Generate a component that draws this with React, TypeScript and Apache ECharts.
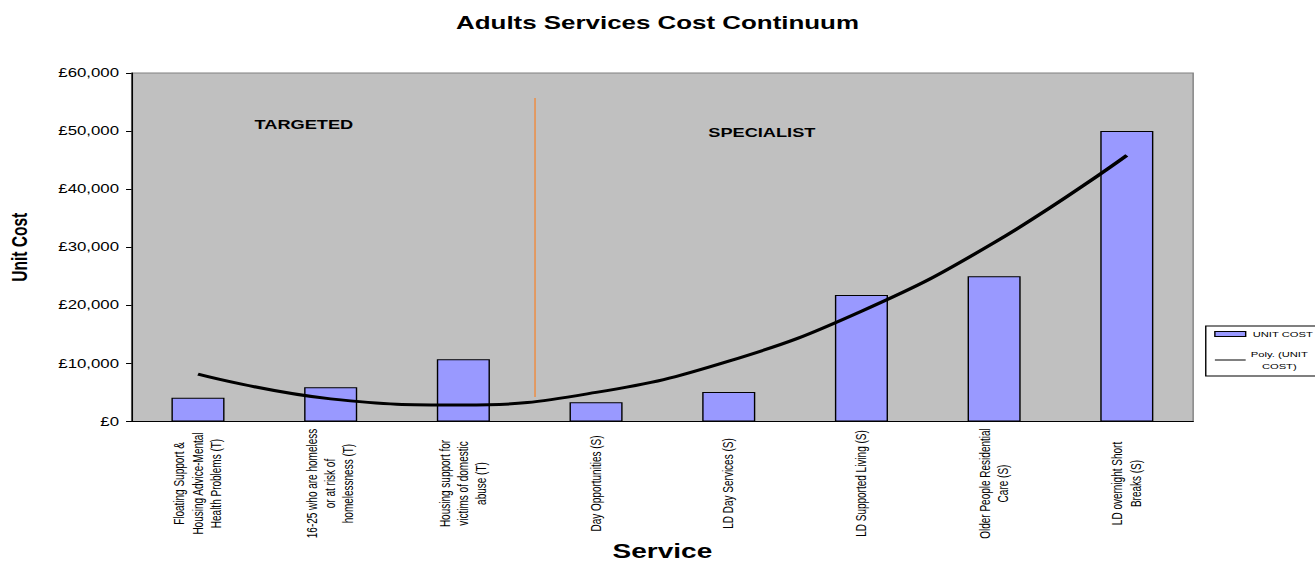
import React, { useEffect, useRef } from 'react';
import * as echarts from 'echarts';

// ---- data ----
const TITLE = 'Adults Services Cost Continuum';
const Y_NAME = 'Unit Cost';
const X_NAME = 'Service';
const BAR_NAME = 'UNIT COST';
const TREND_NAME = 'Poly. (UNIT COST)';

const serviceLabels = [
  'Floating Support &\nHousing Advice-Mental\nHealth Problems (T)',
  '16-25 who are homeless\nor at risk of\nhomelessness (T)',
  'Housing support for\nvictims of domestic\nabuse (T)',
  'Day Opportunities (S)',
  'LD Day Services (S)',
  'LD Supported Living (S)',
  'Older People Residential\nCare (S)',
  'LD overnight Short\nBreaks (S)',
];
const unitCost = [4100, 5900, 10700, 3300, 5100, 21800, 25000, 50000];
const yMin = 0;
const yMax = 60000;
const yInterval = 10000;
const groupLabels = ['TARGETED', 'SPECIALIST'];
// divider between targeted and specialist services (in category units / value units)
const dividerAt = 3.04;
const dividerSpan = [4200, 55700];

// 2nd-order polynomial trendline (least squares, x = 1..n as in the spreadsheet)
function quadTrend(ys: number[]): number[] {
  const xs = ys.map((_, i) => i + 1);
  const s = [0, 0, 0, 0, 0];
  const t = [0, 0, 0];
  xs.forEach((x, i) => {
    for (let k = 0; k < 5; k++) s[k] += Math.pow(x, k);
    for (let k = 0; k < 3; k++) t[k] += Math.pow(x, k) * ys[i];
  });
  const A = [
    [s[0], s[1], s[2], t[0]],
    [s[1], s[2], s[3], t[1]],
    [s[2], s[3], s[4], t[2]],
  ];
  for (let c = 0; c < 3; c++) {
    for (let r = c + 1; r < 3; r++) {
      const f = A[r][c] / A[c][c];
      for (let k = c; k < 4; k++) A[r][k] -= f * A[c][k];
    }
  }
  const coef = [0, 0, 0];
  for (let r = 2; r >= 0; r--) {
    let v = A[r][3];
    for (let k = r + 1; k < 3; k++) v -= A[r][k] * coef[k];
    coef[r] = v / A[r][r];
  }
  return xs.map((x) => Math.round(coef[0] + coef[1] * x + coef[2] * x * x));
}

const W = 939;
const H = 565;
const SX = 1315 / W;
const FONT = 'Liberation Sans, Arial, sans-serif';

export default function App() {
  const ref = useRef<HTMLDivElement>(null);
  useEffect(() => {
    if (!ref.current) return;
    const chart = echarts.init(ref.current, null, { renderer: 'svg', width: W, height: H });
    const trend = quadTrend(unitCost);
    const splitName = (name: string) => {
      const i = name.lastIndexOf(' ');
      return '{c|' + name.slice(0, i) + '}\n{c|' + name.slice(i + 1) + '}';
    };
    chart.setOption({
      animation: false,
      backgroundColor: '#ffffff',
      textStyle: { fontFamily: FONT, color: '#000' },
      title: {
        text: TITLE,
        left: 'center',
        top: 8,
        textStyle: { fontSize: 18.5, fontWeight: 'bold', fontFamily: FONT, color: '#000' },
      },
      legend: {
        orient: 'vertical',
        left: 861,
        top: 326,
        padding: [2, 5, 4, 6],
        itemGap: 8,
        itemWidth: 22,
        itemHeight: 5,
        backgroundColor: '#ffffff',
        borderColor: '#000',
        borderWidth: 1,
        selectedMode: false,
        textStyle: {
          fontSize: 8,
          lineHeight: 12,
          fontFamily: FONT,
          color: '#000',
          rich: { c: { width: 38, align: 'center', fontSize: 8, lineHeight: 12, fontFamily: FONT } },
        },
        formatter: (name: string) => (name === TREND_NAME ? splitName(name) : name),
        data: [
          { name: BAR_NAME, icon: 'rect', itemStyle: { borderWidth: 1, borderColor: '#000' } },
          { name: TREND_NAME, icon: 'path://M0,0H22V1H0Z', itemStyle: { color: '#000', borderWidth: 0 } },
        ],
      },
      grid: {
        left: 94,
        right: 87,
        top: 73,
        bottom: 143.5,
        outerBoundsMode: 'none',
        containLabel: false,
        show: true,
        backgroundColor: '#c0c0c0',
        borderColor: '#808080',
        borderWidth: 1,
      },
      xAxis: [
        {
          type: 'category',
          data: serviceLabels,
          name: X_NAME,
          nameLocation: 'middle',
          nameGap: 120,
          nameMoveOverlap: false,
          nameTextStyle: { fontSize: 20, fontWeight: 'bold', fontFamily: FONT, color: '#000' },
          axisLine: { lineStyle: { color: '#000', width: 1 } },
          axisTick: { length: 4, lineStyle: { color: '#000' } },
          axisLabel: {
            interval: 0,
            rotate: 90,
            align: 'center',
            margin: 62,
            fontSize: 10,
            lineHeight: 13,
            fontFamily: FONT,
            color: '#000',
          },
        },
        { type: 'value', min: 0, max: serviceLabels.length, show: false },
      ],
      yAxis: {
        type: 'value',
        min: yMin,
        max: yMax,
        interval: yInterval,
        name: Y_NAME,
        nameLocation: 'middle',
        nameRotate: 90,
        nameGap: 72,
        nameMoveOverlap: false,
        nameTextStyle: { fontSize: 15.5, fontWeight: 'bold', fontFamily: FONT, color: '#000' },
        axisLine: { show: true, lineStyle: { color: '#000', width: 1 } },
        axisTick: { show: true, length: 4, lineStyle: { color: '#000' } },
        splitLine: { show: false },
        axisLabel: {
          margin: 9,
          fontSize: 12,
          fontFamily: FONT,
          color: '#000',
          formatter: (v: number) => '£' + v.toLocaleString('en-GB'),
        },
      },
      graphic: [
        {
          type: 'text',
          x: 217,
          y: 124,
          style: { text: groupLabels[0], font: `bold 13px ${FONT}`, fill: '#000', align: 'center', verticalAlign: 'middle', textAlign: 'center', textVerticalAlign: 'middle' },
        },
        {
          type: 'text',
          x: 544,
          y: 132,
          style: { text: groupLabels[1], font: `bold 13px ${FONT}`, fill: '#000', align: 'center', verticalAlign: 'middle', textAlign: 'center', textVerticalAlign: 'middle' },
        },
      ],
      series: [
        {
          name: BAR_NAME,
          type: 'bar',
          data: unitCost,
          barWidth: '40%',
          itemStyle: { color: '#9999ff', borderColor: '#000', borderWidth: 1 },
          z: 2,
        },
        {
          name: 'divider',
          type: 'line',
          xAxisIndex: 1,
          data: [
            [dividerAt, dividerSpan[0]],
            [dividerAt, dividerSpan[1]],
          ],
          symbol: 'none',
          silent: true,
          lineStyle: { color: '#f08a3c', width: 1 },
          z: 3,
        },
        {
          name: TREND_NAME,
          type: 'line',
          data: trend,
          smooth: 0.45,
          symbol: 'none',
          color: '#000',
          lineStyle: { color: '#000', width: 3 },
          z: 5,
        },
      ],
    });
    return () => chart.dispose();
  }, []);
  return (
    <div style={{ position: 'fixed', left: 0, top: 0, width: 1315, height: 565, overflow: 'hidden', background: '#fff' }}>
      <div ref={ref} style={{ width: W, height: H, transform: `scaleX(${SX})`, transformOrigin: '0 0' }} />
    </div>
  );
}
